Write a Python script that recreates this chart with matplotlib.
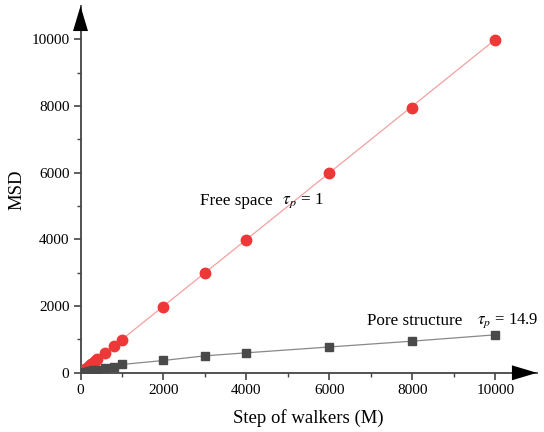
import numpy as np
import matplotlib
matplotlib.use('Agg')
import matplotlib.pyplot as plt
from matplotlib.ticker import FixedLocator

plt.rcParams['font.family'] = ['Liberation Serif', 'DejaVu Serif']
plt.rcParams['mathtext.fontset'] = 'stix'

# free space walkers
free_steps = [50, 100, 150, 200, 250, 300, 350, 400, 600, 800, 1000,
              2000, 3000, 4000, 6000, 8000, 10000]
free_msd = [50, 100, 150, 200, 250, 300, 350, 400, 600, 790, 990,
            1980, 3000, 3980, 6000, 7950, 9980]

# pore structure walkers
pore_steps = [100, 200, 300, 400, 600, 800, 1000, 2000, 3000, 4000, 6000, 8000, 10000]
pore_msd = [25, 50, 70, 90, 140, 180, 250, 370, 510, 600, 775, 950, 1140]

major = [0, 2000, 4000, 6000, 8000, 10000]
minor = [1000, 3000, 5000, 7000, 9000]

axis_col = '#444444'

fig = plt.figure(figsize=(5.44, 4.32), dpi=100)
ax = fig.add_axes([0.148, 0.137, 0.839, 0.849])

ax.plot(free_steps, free_steps, '-', color='#f4a0a0', lw=0.9, zorder=2)
ax.plot(free_steps, free_msd, 'o', color='#ee3838', ms=7.5, mec='#ee3838', zorder=3)
ax.plot(pore_steps, pore_msd, '-', color='#888888', lw=0.9, zorder=2)
ax.plot(pore_steps, pore_msd, 's', color='#4a4a4a', ms=6, zorder=3)

ax.set_xlim(0, 11000)
ax.set_ylim(0, 11000)
ax.set_xticks(major)
ax.set_yticks(major)
ax.xaxis.set_minor_locator(FixedLocator(minor))
ax.yaxis.set_minor_locator(FixedLocator(minor))

ax.spines['top'].set_visible(False)
ax.spines['right'].set_visible(False)
for s in ['left', 'bottom']:
    ax.spines[s].set_color(axis_col)
    ax.spines[s].set_linewidth(1.3)
ax.tick_params(which='major', direction='out', length=5, width=1.2, color=axis_col,
               labelsize=11, pad=3)
ax.tick_params(which='minor', direction='out', length=3, width=1.0, color=axis_col)

# arrow heads at the axis ends
arrow = dict(arrowstyle='-|>,head_length=1.0,head_width=0.3', color='black', lw=0,
             mutation_scale=18, shrinkA=0, shrinkB=0)
ax.annotate('', xy=(1.0, 0), xytext=(0.94, 0), xycoords='axes fraction',
            arrowprops=arrow, annotation_clip=False)
ax.annotate('', xy=(0, 1.0), xytext=(0, 0.94), xycoords='axes fraction',
            arrowprops=arrow, annotation_clip=False)

ax.set_xlabel('Step of walkers (M)', fontsize=13.5, labelpad=9)
ax.set_ylabel('MSD', fontsize=13.5, labelpad=4)

ax.text(2880, 5150, 'Free space', fontsize=12.3, va='center')
ax.text(4850, 5150, r'$\tau_p$ = 1', fontsize=12.3, va='center')
ax.text(6900, 1550, 'Pore structure', fontsize=12.3, va='center')
ax.text(9560, 1550, r'$\tau_p$ = 14.9', fontsize=12.0, va='center', clip_on=False)

fig.savefig('out.png', dpi=100)
